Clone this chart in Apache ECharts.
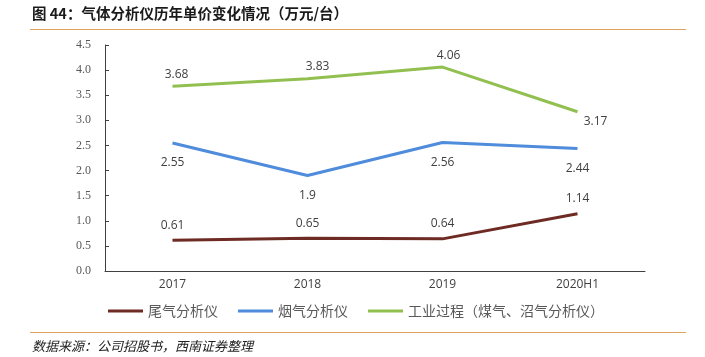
<!DOCTYPE html>
<html><head><meta charset="utf-8">
<script src="https://cdn.jsdelivr.net/npm/echarts@6/dist/echarts.min.js"></script>
<style>html,body{margin:0;padding:0;background:#fff}#c{width:705px;height:357px}</style>
</head><body><div id="c"></div>
<script>
const categories = ['2017', '2018', '2019', '2020H1'];
const exhaust = [0.61, 0.65, 0.64, 1.14];
const flue = [2.55, 1.9, 2.56, 2.44];
const industrial = [3.68, 3.83, 4.06, 3.17];
const seriesNames = ['尾气分析仪', '烟气分析仪', '工业过程（煤气、沼气分析仪）'];
const yTicks = { min: 0, max: 4.5, interval: 0.5 };

const chart = echarts.init(document.getElementById('c'), null, { renderer: 'canvas' });
const lblFont = { fontFamily: 'Open Sans, DejaVu Sans, sans-serif', fontSize: 12, color: '#404040' };
const cjk = '"Noto Sans CJK SC", sans-serif';
const lineSeries = (name, data, color, pos, dist) => ({
  name, type: 'line', data, symbol: 'circle', symbolSize: 0, showSymbol: true,
  lineStyle: { width: 3, color }, itemStyle: { color },
  label: Object.assign({ show: true, position: pos, distance: dist }, lblFont)
});
const greenOffsets = [[4, 0], [10, 0], [6, 0], [18, 0]];
const s3 = lineSeries(seriesNames[2], industrial.map((v, i) => i === 3
  ? { value: v, label: { position: 'bottom', distance: 4, offset: greenOffsets[i] } }
  : { value: v, label: { offset: greenOffsets[i] } }), '#92C050', 'top', 6);
chart.setOption({
  animation: false,
  backgroundColor: '#fff',
  graphic: [
    { type: 'text', left: 32, top: 6, style: { text: '图 44：气体分析仪历年单价变化情况（万元/台）', font: 'bold 14.5px ' + cjk, fill: '#1a1a1a' } },
    { type: 'line', shape: { x1: 30, y1: 29.5, x2: 686, y2: 29.5 }, style: { stroke: '#E0A060', lineWidth: 1 } },
    { type: 'line', shape: { x1: 30, y1: 332.5, x2: 686, y2: 332.5 }, style: { stroke: '#E0A060', lineWidth: 1 } },
    { type: 'text', left: 32, top: 340, style: { text: '数据来源：公司招股书，西南证券整理', font: 'italic 13px ' + cjk, fill: '#222' } }
  ],
  grid: { left: 105, right: 60, top: 45, bottom: 86 },
  legend: {
    top: 304, left: 108, padding: 0, itemWidth: 35, itemHeight: 3, itemGap: 20,
    icon: 'rect',
    textStyle: { fontFamily: cjk, fontSize: 14, color: '#595959' },
    data: seriesNames
  },
  xAxis: {
    type: 'category', data: categories, boundaryGap: true,
    axisLine: { lineStyle: { color: '#404040', width: 1 } },
    axisTick: { inside: true, length: 4, lineStyle: { color: '#404040' } },
    axisLabel: Object.assign({ margin: 8 }, lblFont)
  },
  yAxis: {
    type: 'value', min: yTicks.min, max: yTicks.max, interval: yTicks.interval,
    splitLine: { show: false },
    axisLine: { show: true, lineStyle: { color: '#404040', width: 1 } },
    axisTick: { show: true, inside: true, length: 4, lineStyle: { color: '#404040' } },
    axisLabel: { formatter: v => v.toFixed(1), fontFamily: 'Liberation Serif, serif', fontSize: 12, color: '#595959', margin: 14 }
  },
  series: [
    lineSeries(seriesNames[0], exhaust, '#6E2B23', 'top', 9),
    lineSeries(seriesNames[1], flue, '#4F8CDB', 'bottom', 14),
    s3
  ]
});
</script></body></html>
